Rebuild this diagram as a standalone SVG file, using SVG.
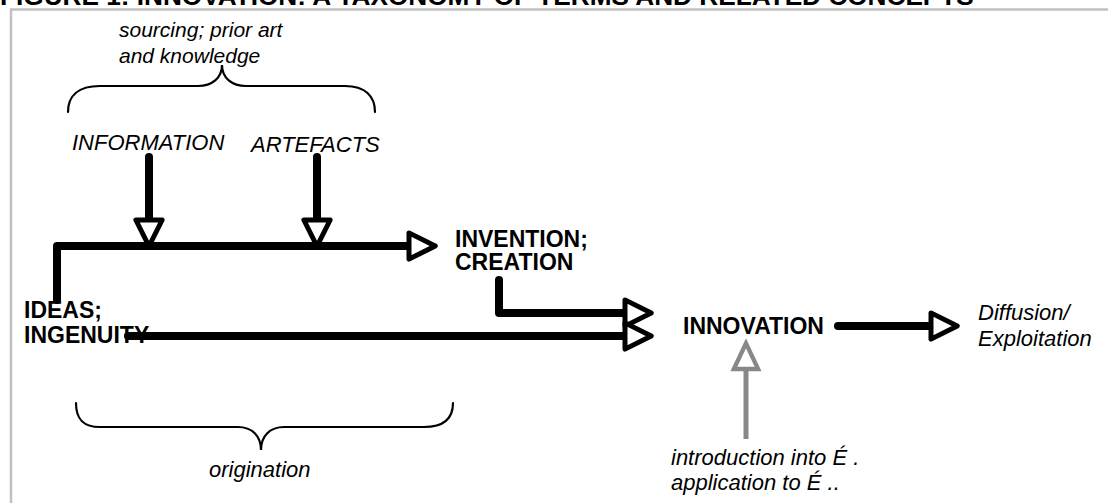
<svg xmlns="http://www.w3.org/2000/svg" width="1108" height="503" viewBox="0 0 1108 503">
  <style>
    .title { font: bold 26.2px "Liberation Sans", Arial, sans-serif; fill: #000; }
    .lbl { font: bold 23px "Liberation Sans", Arial, sans-serif; fill: #000; }
    .note { font: italic 22px "Liberation Sans", Arial, sans-serif; fill: #000; }
    .note-sm { font: italic 21px "Liberation Sans", Arial, sans-serif; fill: #000; }
    .flow { fill: none; stroke: #000; stroke-width: 8; stroke-linecap: round; stroke-linejoin: round; }
    .input { fill: none; stroke: #888; stroke-width: 5; stroke-linecap: butt; }
    .brace { fill: none; stroke: #000; stroke-width: 2.2; stroke-linecap: round; }
    .frame { fill: none; stroke: #c0c0c0; stroke-width: 2.5; }
  </style>
  <defs>
    <marker id="head" markerUnits="userSpaceOnUse" orient="auto" refX="0" refY="0" markerWidth="40" markerHeight="40" viewBox="-4 -16 32 32" overflow="visible">
      <path d="M0,-10.5 L21,0 L0,10.5 Z" fill="#fff" stroke="#000" stroke-width="4" stroke-linejoin="round"/>
    </marker>
    <marker id="headGrey" markerUnits="userSpaceOnUse" orient="auto" refX="0" refY="0" markerWidth="40" markerHeight="40" viewBox="-4 -14 28 28" overflow="visible">
      <path d="M0,-8.5 L18,0 L0,8.5 Z" fill="#fff" stroke="#888" stroke-width="3" stroke-linejoin="miter"/>
    </marker>
  </defs>

  <rect width="1108" height="503" fill="#fff"/>

  <!-- heading, partly above the page edge -->
  <text class="title" x="0" y="5">FIGURE 1: INNOVATION: A TAXONOMY OF TERMS AND RELATED CONCEPTS</text>

  <!-- frame -->
  <path class="frame" d="M11,503 V9.5 H1108"/>

  <!-- braces -->
  <g id="brace-sourcing">
    <path class="brace" d="M68,112 C68,96 78,86 100,86 H198 C212,86 222,78 222,65 C222,78 232,86 246,86 H345 C365,86 375,96 375,112"/>
    <text class="note-sm" x="119" y="37">sourcing; prior art</text>
    <text class="note-sm" x="119" y="63">and knowledge</text>
  </g>
  <g id="brace-origination">
    <path class="brace" d="M76,403 C76,418 82,427 100,427 H238 C252,427 261,436 261,450 C261,436 270,427 284,427 H424 C444,427 453,418 453,403"/>
    <text class="note" x="209" y="477">origination</text>
  </g>

  <!-- connectors -->
  <g id="connectors">
    <path class="flow" d="M57,300 V246 H409" marker-end="url(#head)"/>
    <path class="flow" d="M149,157 V220" marker-end="url(#head)"/>
    <path class="flow" d="M317,157 V220" marker-end="url(#head)"/>
    <path class="flow" d="M499,280 V313 H625" marker-end="url(#head)"/>
    <path class="flow" d="M128,336 H625" marker-end="url(#head)"/>
    <path class="flow" d="M838,326 H931" marker-end="url(#head)"/>
    <path class="input" d="M746,439 V369" marker-end="url(#headGrey)"/>
  </g>

  <!-- nodes -->
  <g id="information"><text class="note" x="72" y="150">INFORMATION</text></g>
  <g id="artefacts"><text class="note" x="251" y="152">ARTEFACTS</text></g>
  <g id="invention">
    <text class="lbl" x="455" y="247">INVENTION;</text>
    <text class="lbl" x="455" y="270">CREATION</text>
  </g>
  <g id="ideas">
    <text class="lbl" x="24" y="318">IDEAS;</text>
    <text class="lbl" x="24" y="343">INGENUITY</text>
  </g>
  <g id="innovation"><text class="lbl" x="683" y="334">INNOVATION</text></g>
  <g id="diffusion">
    <text class="note" x="978" y="320">Diffusion/</text>
    <text class="note" x="978" y="346">Exploitation</text>
  </g>
  <g id="introduction">
    <text class="note" x="671" y="465">introduction into É .</text>
    <text class="note" x="671" y="490">application to É ..</text>
  </g>
</svg>
